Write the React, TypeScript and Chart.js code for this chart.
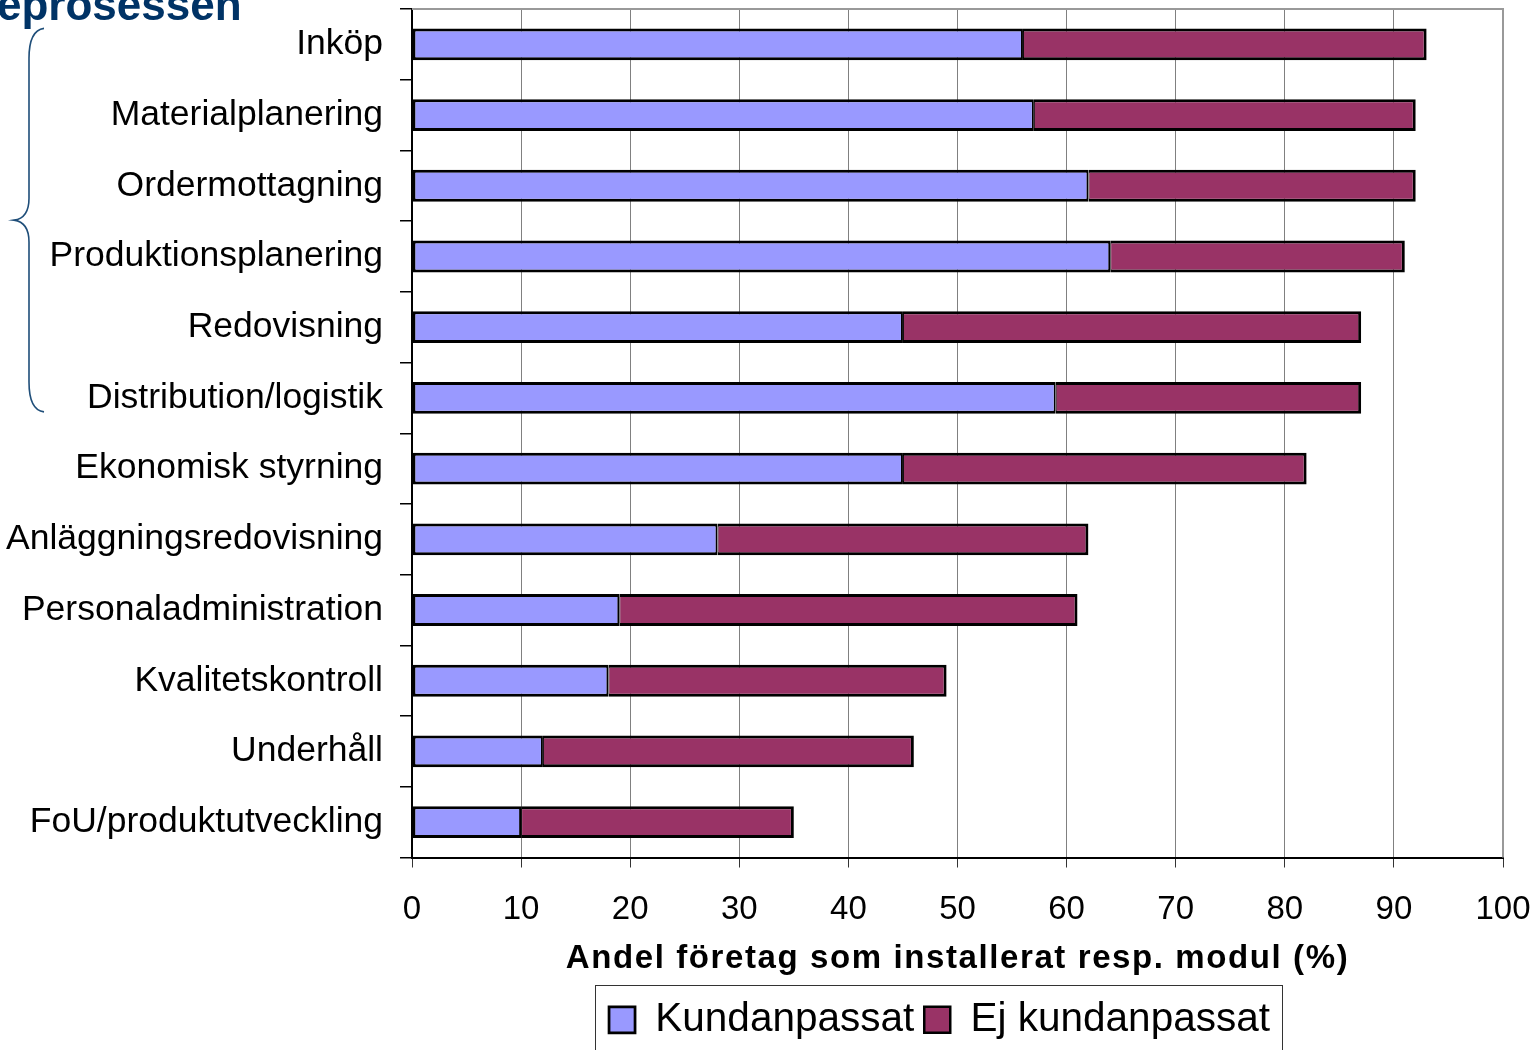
import React, { useEffect, useRef } from "react";
import { Chart, registerables } from "chart.js";

Chart.register(...registerables);

const categories = [
  "Inköp",
  "Materialplanering",
  "Ordermottagning",
  "Produktionsplanering",
  "Redovisning",
  "Distribution/logistik",
  "Ekonomisk styrning",
  "Anläggningsredovisning",
  "Personaladministration",
  "Kvalitetskontroll",
  "Underhåll",
  "FoU/produktutveckling",
];
const kundanpassat = [56, 57, 62, 64, 45, 59, 45, 28, 19, 18, 12, 10];
const ejKundanpassat = [37, 35, 30, 27, 42, 28, 37, 34, 42, 31, 34, 25];
const seriesNames = ["Kundanpassat", "Ej kundanpassat"];
const xTickValues = [0, 10, 20, 30, 40, 50, 60, 70, 80, 90, 100];
const axisTitle = "Andel företag som installerat resp. modul (%)";
const headingFragment = "eprosessen";
const bracedFirst = 0;
const bracedLast = 5;

const FONT = "'Liberation Sans', Arial, sans-serif";

const decorPlugin = {
  id: "decor",
  afterUpdate(chart: any) {
    const legend = chart.legend;
    const area = chart.chartArea;
    if (legend && area) {
      const target = (area.left + area.right) / 2 - 18;
      const half = 800;
      legend.left = target - half;
      legend.right = target + half;
      legend.adjustHitBoxes();
    }
  },
  afterDraw(chart: any) {
    const ctx = chart.ctx as CanvasRenderingContext2D;
    const area = chart.chartArea;
    const y = chart.scales.y;
    ctx.save();
    // top and right plot border
    ctx.strokeStyle = "#999999";
    ctx.lineWidth = 2;
    ctx.beginPath();
    ctx.moveTo(area.left, area.top);
    ctx.lineTo(area.right, area.top);
    ctx.lineTo(area.right, area.bottom);
    ctx.stroke();

    // axis title
    ctx.fillStyle = "#000";
    ctx.font = `bold 33px ${FONT}`;
    (ctx as any).letterSpacing = "1.6px";
    ctx.textAlign = "center";
    ctx.textBaseline = "alphabetic";
    ctx.fillText(axisTitle, (area.left + area.right) / 2, 968);
    (ctx as any).letterSpacing = "0px";

    // heading fragment
    ctx.fillStyle = "#003366";
    ctx.font = `bold 44px ${FONT}`;
    ctx.textAlign = "left";
    ctx.fillText(headingFragment, -3, 20);

    // brace
    const yTop = y.getPixelForValue(bracedFirst) - 16;
    const yBot = y.getPixelForValue(bracedLast) + 14;
    const yMid = (yTop + yBot) / 2;
    const xr = 44;
    const xl = 29;
    const xt = 14;
    ctx.strokeStyle = "#1F4E79";
    ctx.lineWidth = 1.6;
    ctx.beginPath();
    ctx.moveTo(xr, yTop);
    ctx.quadraticCurveTo(xl, yTop + 2, xl, yTop + 30);
    ctx.lineTo(xl, yMid - 22);
    ctx.quadraticCurveTo(xl, yMid - 2, xt, yMid);
    ctx.quadraticCurveTo(xl, yMid + 2, xl, yMid + 22);
    ctx.lineTo(xl, yBot - 30);
    ctx.quadraticCurveTo(xl, yBot - 2, xr, yBot);
    ctx.stroke();

    // legend border
    const hb = chart.legend && chart.legend.legendHitBoxes;
    if (hb && hb.length) {
      const first = hb[0];
      const last = hb[hb.length - 1];
      const left = first.left - 14;
      const right = last.left + last.width + 12;
      const top = 985;
      ctx.strokeStyle = "#333";
      ctx.lineWidth = 1;
      ctx.strokeRect(Math.round(left) + 0.5, top + 0.5, Math.round(right - left), 200);
    }
    ctx.restore();
  },
};

export default function App() {
  const ref = useRef<HTMLCanvasElement | null>(null);
  useEffect(() => {
    if (!ref.current) return;
    Chart.defaults.font.family = FONT;
    Chart.defaults.color = "#000";
    const chart = new Chart(ref.current, {
      type: "bar",
      data: {
        labels: categories,
        datasets: [
          {
            label: seriesNames[0],
            data: kundanpassat,
            backgroundColor: "#9999FF",
            borderColor: "#000",
            borderWidth: { top: 3, bottom: 3, left: 3, right: 2 },
            borderSkipped: false,
            barPercentage: 0.45,
            categoryPercentage: 1,
          },
          {
            label: seriesNames[1],
            data: ejKundanpassat,
            backgroundColor: "#993366",
            borderColor: "#000",
            borderWidth: { top: 3, bottom: 3, left: 1, right: 3 },
            borderSkipped: false,
            barPercentage: 0.45,
            categoryPercentage: 1,
          },
        ],
      },
      options: {
        indexAxis: "y",
        responsive: false,
        animation: false,
        layout: { padding: { top: 9, right: 34, left: 0, bottom: 0 } },
        plugins: {
          title: { display: false },
          tooltip: { enabled: false },
          legend: {
            position: "bottom",
            labels: {
              font: { size: 40.5 },
              color: "#000",
              boxWidth: 26,
              boxHeight: 26,
              padding: 10,
            },
          },
        },
        scales: {
          x: {
            stacked: true,
            min: 0,
            max: 100,
            afterBuildTicks: (scale: any) => {
              scale.ticks = xTickValues.map((v) => ({ value: v }));
            },
            afterFit: (scale: any) => {
              scale.height = 132;
              scale.paddingLeft = 0;
              scale.paddingRight = 0;
            },
            ticks: { font: { size: 33 }, padding: 23, color: "#000" },
            grid: {
              color: "#808080",
              lineWidth: 1,
              tickLength: 10,
              tickColor: "#333",
            },
            border: { color: "#000", width: 2 },
          },
          y: {
            stacked: true,
            afterFit: (scale: any) => {
              scale.width = 412;
              scale.paddingTop = 0;
              scale.paddingBottom = 0;
            },
            ticks: { font: { size: 35.5 }, padding: 17, color: "#000" },
            grid: {
              drawOnChartArea: false,
              offset: true,
              tickLength: 12,
              color: "#000",
              lineWidth: 1.5,
            },
            border: { color: "#000", width: 2 },
          },
        },
      },
      plugins: [decorPlugin],
    } as any);
    return () => chart.destroy();
  }, []);
  return (
    <div style={{ position: "fixed", left: 0, top: 0, width: 1537, height: 1050, background: "#fff" }}>
      <canvas ref={ref} width={1537} height={1050} style={{ width: 1537, height: 1050, display: "block" }} />
    </div>
  );
}
